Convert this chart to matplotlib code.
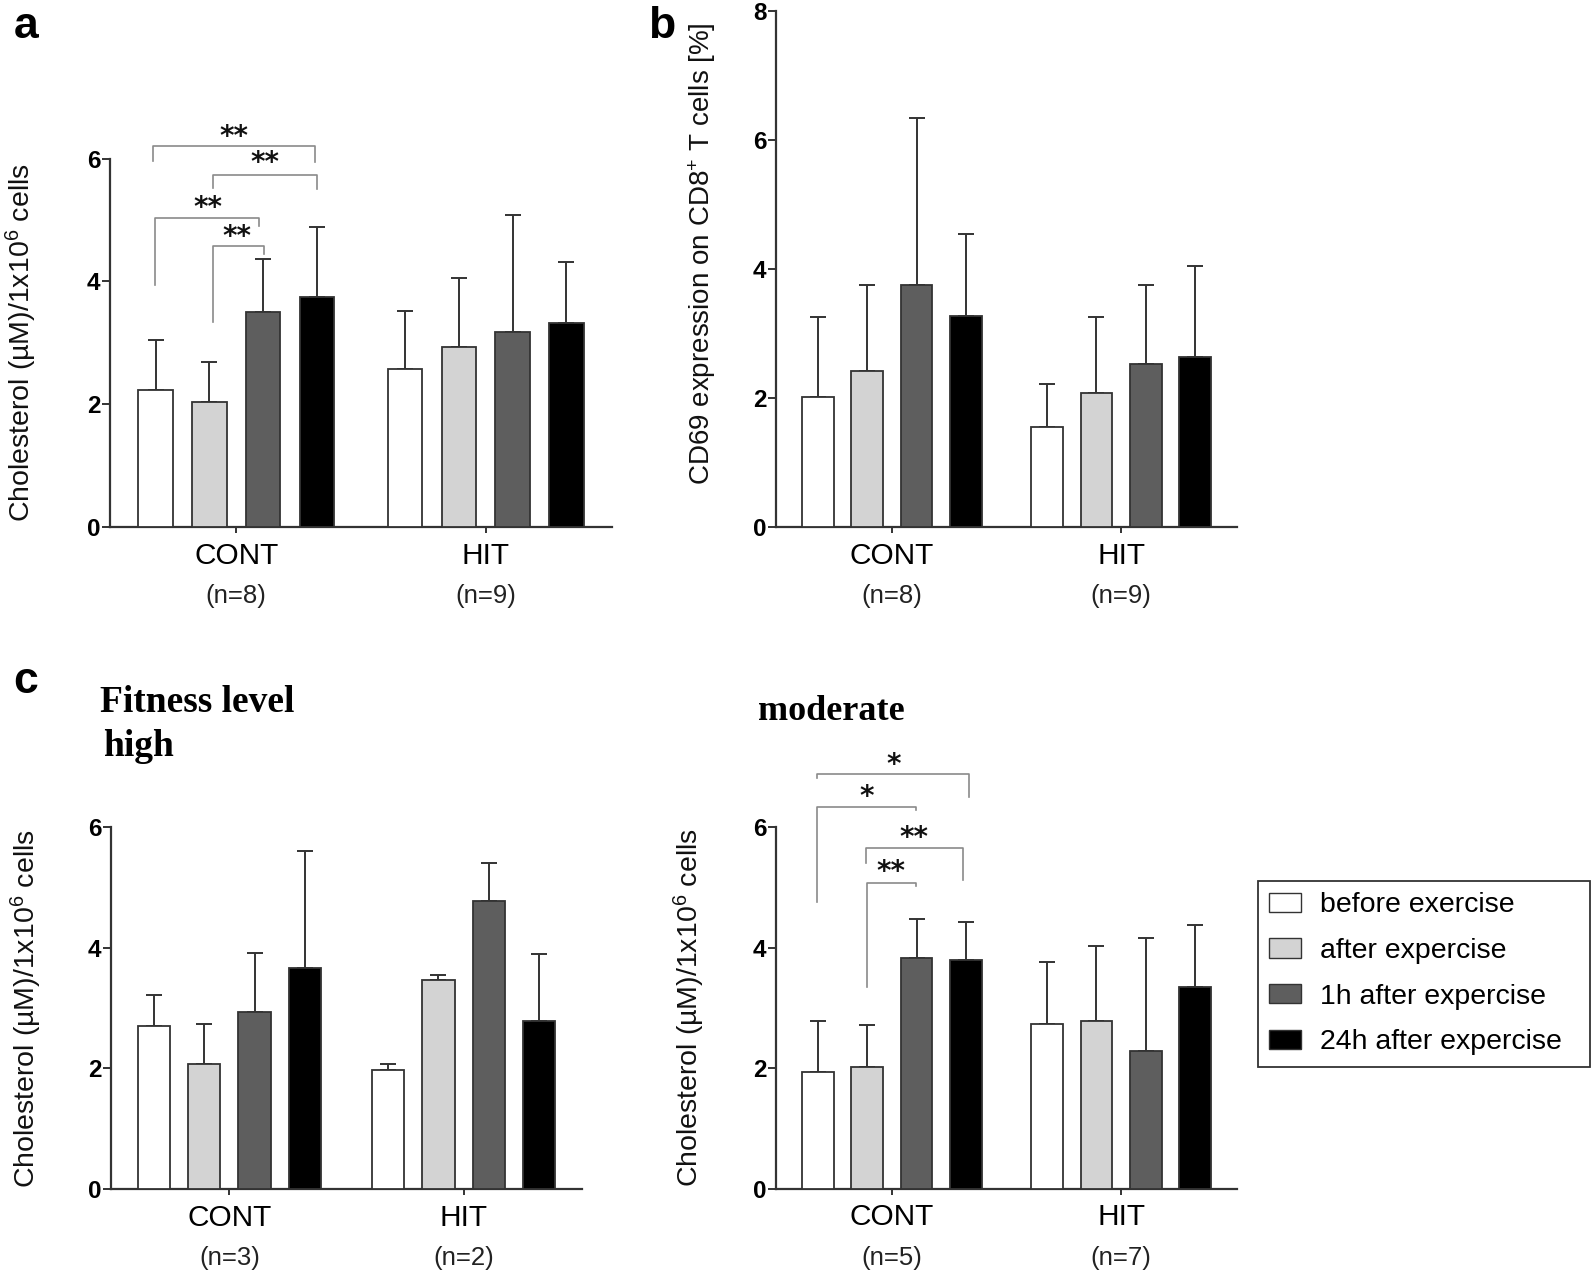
import numpy as np
import matplotlib
matplotlib.use('Agg')
import matplotlib.pyplot as plt
from matplotlib.patches import Patch

plt.rcParams['font.family'] = ['Liberation Sans', 'DejaVu Sans']
plt.rcParams['mathtext.default'] = 'regular'

# ---------------- data ----------------
groups = ['CONT', 'HIT']
series = ['before exercise', 'after expercise', '1h after expercise', '24h after expercise']
colors = ['#ffffff', '#d3d3d3', '#5e5e5e', '#000000']

# panel a: cholesterol, all
a_n = ['(n=8)', '(n=9)']
a_cont_mean = [2.23, 2.03, 3.50, 3.75]
a_cont_sd = [0.81, 0.65, 0.86, 1.14]
a_hit_mean = [2.57, 2.94, 3.17, 3.32]
a_hit_sd = [0.95, 1.11, 1.91, 1.00]

# panel b: CD69 expression
b_n = ['(n=8)', '(n=9)']
b_cont_mean = [2.01, 2.42, 3.75, 3.27]
b_cont_sd = [1.24, 1.33, 2.59, 1.27]
b_hit_mean = [1.55, 2.07, 2.53, 2.64]
b_hit_sd = [0.66, 1.18, 1.22, 1.41]

# panel c: fitness level high
ch_n = ['(n=3)', '(n=2)']
ch_cont_mean = [2.71, 2.07, 2.93, 3.67]
ch_cont_sd = [0.51, 0.67, 0.99, 1.94]
ch_hit_mean = [1.98, 3.47, 4.78, 2.78]
ch_hit_sd = [0.10, 0.08, 0.63, 1.12]

# panel c: fitness level moderate
cm_n = ['(n=5)', '(n=7)']
cm_cont_mean = [1.94, 2.01, 3.83, 3.79]
cm_cont_sd = [0.85, 0.70, 0.65, 0.64]
cm_hit_mean = [2.73, 2.79, 2.29, 3.35]
cm_hit_sd = [1.04, 1.23, 1.87, 1.02]

# significance brackets: (x_left, x_right, y, left_leg_end, right_leg_end, label, label_x, label_y)
a_brackets = [
    (-1.54, 1.47, 6.20, 5.97, 5.95, '**', -0.04, 6.49),
    (-0.43, 1.50, 5.73, 5.53, 5.50, '**', 0.54, 6.06),
    (-1.52, 0.43, 5.03, 3.95, 4.90, '**', -0.53, 5.33),
    (-0.43, 0.51, 4.57, 3.34, 4.45, '**', 0.02, 4.86),
]
cm_brackets = [
    (-1.51, 1.57, 6.88, 6.82, 6.50, '*', 0.03, 7.17),
    (-1.51, 0.49, 6.33, 4.76, 6.28, '*', -0.51, 6.64),
    (-0.53, 1.44, 5.66, 5.41, 5.12, '**', 0.45, 5.96),
    (-0.51, 0.49, 5.08, 3.35, 5.03, '**', -0.01, 5.39),
]

chol_label = r'Cholesterol (µM)/1x10$^{6}$ cells'
cd69_label = r'CD69 expression on CD8$^{+}$ T cells [%]'

# ---------------- figure ----------------
W, H = 1595, 1274
DPI = 100
fig = plt.figure(figsize=(W / DPI, H / DPI), dpi=DPI)

EDGE = '#333333'
SEP = 4.65
OFFS = np.array([-1.5, -0.5, 0.5, 1.5])
BW = 0.64


def make_ax(l, r, t, b):
    return fig.add_axes([l / W, 1 - b / H, (r - l) / W, (b - t) / H])


def draw_panel(ax, means, sds, ymax, nlabels, ylabel, ylab_x, ylab_y=0.5, ylab_fs=20.5):
    centers = np.array([0.0, SEP])
    for gi, (m, s) in enumerate(zip(means, sds)):
        xs = centers[gi] + OFFS
        ax.bar(xs, m, width=BW, color=colors, edgecolor=EDGE, linewidth=1.3, zorder=3)
        ax.errorbar(xs, m, yerr=[np.zeros(len(s)), s], fmt='none', ecolor=EDGE,
                    elinewidth=1.4, capsize=5.5, capthick=1.4, zorder=2)
    ax.set_xlim(-2.35, 7.0)
    ax.set_ylim(0, ymax)
    ticks = np.arange(0, ymax + 0.1, 2)
    ax.set_yticks(ticks)
    ax.set_yticklabels([f'{int(v)}' for v in ticks], fontweight='bold', fontsize=17.5)
    ax.set_xticks(centers)
    ax.set_xticklabels(groups, fontsize=21.5)
    for sp in ['top', 'right']:
        ax.spines[sp].set_visible(False)
    for sp in ['left', 'bottom']:
        ax.spines[sp].set_color(EDGE)
        ax.spines[sp].set_linewidth(1.6)
    ax.tick_params(axis='y', length=5.5, width=1.4, color=EDGE, pad=1.5)
    ax.tick_params(axis='x', length=4.5, width=1.4, color=EDGE, pad=6)
    for c, nl in zip(centers, nlabels):
        ax.annotate(nl, xy=(c, 0), xycoords=('data', 'axes fraction'),
                    xytext=(0, -50), textcoords='offset points',
                    ha='center', va='center', fontsize=18.5, color='#222222')
    ax.set_ylabel(ylabel, fontsize=ylab_fs, va='center', color='#111111')
    ax.yaxis.set_label_coords(ylab_x, ylab_y)


def draw_brackets(ax, brackets):
    for xl, xr, y, ll, rl, lab, lx, ly in brackets:
        ax.plot([xl, xl, xr, xr], [ll, y, y, rl], color='#8a8a8a', lw=1.2,
                clip_on=False, zorder=4)
        ax.annotate(lab, xy=(lx, ly), xycoords='data', xytext=(0, -11.5),
                    textcoords='offset points', ha='center', va='baseline',
                    fontsize=20, fontweight='bold', family='DejaVu Sans',
                    annotation_clip=False, color='#111111')


ax_a = make_ax(110, 612, 158.7, 527)
draw_panel(ax_a, [a_cont_mean, a_hit_mean], [a_cont_sd, a_hit_sd], 6, a_n, chol_label, -0.1755)
draw_brackets(ax_a, a_brackets)

ax_b = make_ax(776, 1237, 11, 527)
draw_panel(ax_b, [b_cont_mean, b_hit_mean], [b_cont_sd, b_hit_sd], 8, b_n, cd69_label, -0.160,
           ylab_y=0.529, ylab_fs=20)

ax_ch = make_ax(111, 582, 827.2, 1189)
draw_panel(ax_ch, [ch_cont_mean, ch_hit_mean], [ch_cont_sd, ch_hit_sd], 6, ch_n, chol_label, -0.18)

ax_cm = make_ax(776, 1237, 827.3, 1188.5)
draw_panel(ax_cm, [cm_cont_mean, cm_hit_mean], [cm_cont_sd, cm_hit_sd], 6, cm_n, chol_label, -0.187)
draw_brackets(ax_cm, cm_brackets)

# panel letters
for lab, x, y in [('a', 14, 38), ('b', 648, 37.6), ('c', 13, 692.6)]:
    fig.text(x / W, 1 - y / H, lab, fontsize=32, fontweight='bold', ha='left', va='baseline')

# subtitles
serif = ['Liberation Serif', 'DejaVu Serif']
fig.text(100 / W, 1 - 712 / H, 'Fitness level', family=serif, fontweight='bold',
         fontsize=27, ha='left', va='baseline')
fig.text(103 / W, 1 - 756 / H, 'high', family=serif, fontweight='bold',
         fontsize=27, ha='left', va='baseline')
fig.text(758 / W, 1 - 720 / H, 'moderate', family=serif, fontweight='bold',
         fontsize=26, ha='left', va='baseline')

# legend
handles = [Patch(facecolor=c, edgecolor=EDGE, linewidth=1.0) for c in colors]
leg = fig.legend(handles, series, loc='upper left', mode='expand',
                 bbox_to_anchor=(1258 / W, 1 - 1069 / H, 332 / W, 188 / H),
                 fontsize=20.5, frameon=True, fancybox=False, framealpha=1,
                 edgecolor=EDGE, handlelength=1.11, handleheight=0.67,
                 handletextpad=0.67, labelspacing=0.69, borderpad=0.4,
                 borderaxespad=0)
leg.get_frame().set_linewidth(1.3)

fig.savefig('out.png', dpi=DPI)
